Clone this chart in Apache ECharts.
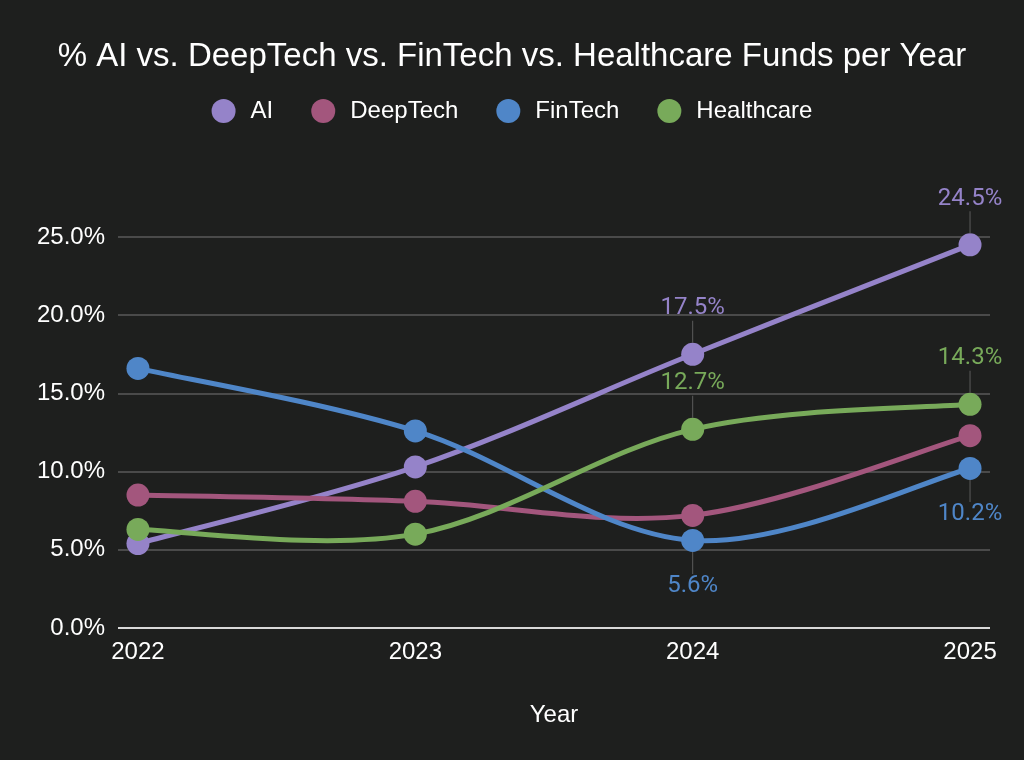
<!DOCTYPE html>
<html><head><meta charset="utf-8">
<script src="https://cdn.jsdelivr.net/npm/echarts@6/dist/echarts.min.js"></script>
<style>html,body{margin:0;padding:0;background:#1e1f1e;}#c{width:1024px;height:760px;}</style>
</head><body><div id="c"></div>
<script>
const years = [2022, 2023, 2024, 2025];
const seriesNames = ['AI', 'DeepTech', 'FinTech', 'Healthcare'];
const aiValues = [5.4, 10.3, 17.5, 24.5];
const deepTechValues = [8.5, 8.1, 7.2, 12.3];
const finTechValues = [16.6, 12.6, 5.6, 10.2];
const healthcareValues = [6.3, 6.0, 12.7, 14.3];
const yTicks = [0, 5, 10, 15, 20, 25];
// which points carry a value label, and on which side
const aiLabels = [null, null, 'top', 'top'];
const deepTechLabels = [null, null, null, null];
const finTechLabels = [null, null, 'bottom', 'bottom'];
const healthcareLabels = [null, null, 'top', 'top'];

const colors = ['#9583c9', '#a3567d', '#4f86c8', '#78aa5a'];
const allValues = [aiValues, deepTechValues, finTechValues, healthcareValues];
const allLabels = [aiLabels, deepTechLabels, finTechLabels, healthcareLabels];
const FONT = 'Liberation Sans, Arial, sans-serif';

function buildData(vals, labs, color) {
  return vals.map((v, i) => {
    const item = { value: [years[i], v] };
    const side = labs[i];
    if (side) {
      item.label = {
        show: true,
        position: side,
        distance: 0,
        align: 'center',
        formatter: side === 'top' ? '{v|' + v.toFixed(1) + '%}\n{l|}' : '{l|}\n{v|' + v.toFixed(1) + '%}',
        rich: {
          v: { color: color, fontSize: 24, fontFamily: 'Roboto', lineHeight: 25, align: 'center' },
          l: { width: 1, height: 22, backgroundColor: '#5c5c5c', align: 'center' }
        }
      };
    }
    return item;
  });
}

// Smooth curve (Catmull-Rom style) through the points, positioned by the axes' own scales.
function makeCurveRenderer(k) {
  const vals = allValues[k];
  return function (params, api) {
    const i = params.dataIndex;
    if (i === 0) return null;
    const n = vals.length;
    const P = j => api.coord([years[j], vals[j]]);
    const p0 = P(i - 1), p1 = P(i);
    const pm = i - 2 >= 0 ? P(i - 2) : p0;
    const pn = i + 1 < n ? P(i + 1) : p1;
    return {
      type: 'bezierCurve',
      shape: {
        x1: p0[0], y1: p0[1], x2: p1[0], y2: p1[1],
        cpx1: p0[0] + (p1[0] - pm[0]) / 6, cpy1: p0[1] + (p1[1] - pm[1]) / 6,
        cpx2: p1[0] - (pn[0] - p0[0]) / 6, cpy2: p1[1] - (pn[1] - p0[1]) / 6
      },
      style: { stroke: colors[k], lineWidth: 5, fill: null, lineCap: 'round' }
    };
  };
}

const curveSeries = seriesNames.map((n, k) => ({
  name: n, type: 'custom', silent: true, clip: false, z: 2,
  itemStyle: { color: colors[k] },
  encode: { x: 0, y: 1 },
  renderItem: makeCurveRenderer(k),
  data: allValues[k].map((v, i) => [years[i], v])
}));

const pointSeries = seriesNames.map((n, k) => ({
  name: n, type: 'scatter', z: 3,
  symbol: 'circle', symbolSize: 23,
  itemStyle: { color: colors[k], opacity: 1 },
  emphasis: { disabled: true },
  data: buildData(allValues[k], allLabels[k], colors[k])
}));

const chart = echarts.init(document.getElementById('c'));
chart.setOption({
  backgroundColor: '#1e1f1e',
  animation: false,
  color: colors,
  title: {
    text: '% AI vs. DeepTech vs. FinTech vs. Healthcare Funds per Year',
    left: 'center', top: 35,
    textStyle: { color: '#ffffff', fontSize: 33, fontWeight: 'normal', fontFamily: FONT }
  },
  legend: {
    top: 94, left: 'center',
    icon: 'circle', itemWidth: 24, itemHeight: 24, itemGap: 38,
    data: seriesNames,
    textStyle: { color: '#ffffff', fontSize: 24, fontFamily: FONT, padding: [0, 0, 0, 10] }
  },
  grid: { left: 118, right: 34, top: 237, bottom: 132, containLabel: false },
  xAxis: {
    type: 'value',
    min: 2021.928, max: 2025.072,
    name: 'Year', nameLocation: 'middle', nameGap: 75,
    nameTextStyle: { color: '#ffffff', fontSize: 24, fontFamily: FONT },
    axisLine: { show: false },
    axisTick: { show: false },
    splitLine: { show: false },
    axisLabel: {
      customValues: years, margin: 12,
      color: '#ffffff', fontSize: 24, fontFamily: FONT,
      formatter: v => String(Math.round(v))
    }
  },
  yAxis: {
    type: 'value', min: 0, max: 25, interval: 5,
    axisLine: { show: false }, axisTick: { show: false },
    splitLine: { lineStyle: { color: '#4a4a4a', width: 2 } },
    axisLabel: {
      margin: 13, color: '#ffffff', fontSize: 24, fontFamily: FONT,
      formatter: v => v.toFixed(1) + '%'
    }
  },
  series: curveSeries.concat(pointSeries).concat([{
    type: 'line', silent: true, symbol: 'none', data: [],
    markLine: {
      silent: true, symbol: 'none', label: { show: false },
      lineStyle: { color: '#d9d9d9', width: 2, type: 'solid' },
      data: [{ yAxis: 0 }]
    }
  }])
});
</script></body></html>
